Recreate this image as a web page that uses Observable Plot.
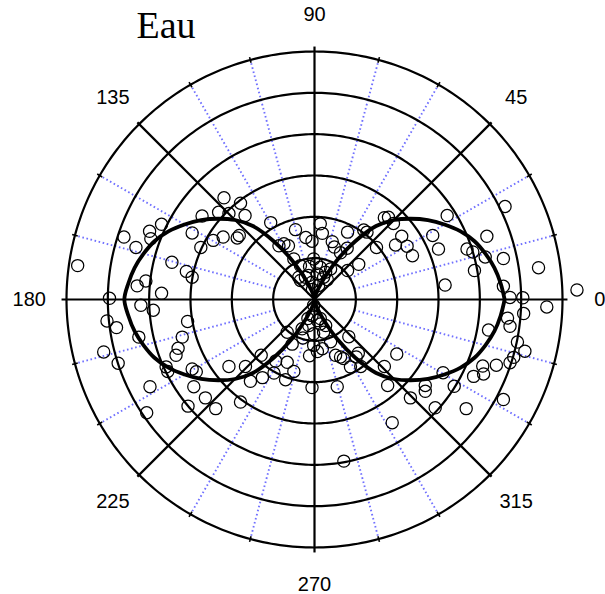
<!DOCTYPE html>
<html><head><meta charset="utf-8">
<script src="https://cdn.jsdelivr.net/npm/d3@7"></script>
<script src="https://cdn.jsdelivr.net/npm/@observablehq/plot@0.6"></script>
<style>body{margin:0;background:#fff}</style>
</head><body><div id="chart"></div>
<script>
const title = "Eau";
const angleLabels = ["0","45","90","135","180","225","270","315"];
const majorAngles = [0,45,90,135,180,225,270,315];
const minorAngles = [15,30,60,75,105,120,150,165,195,210,240,255,285,300,330,345];
const ringRadii = [1,2,3,4,5,6];
const curveAngles = d3.range(0, 361, 5);
const curveRadii = [
 4.60,4.52,4.42,4.28,4.12,3.90,3.63,3.35,3.04,2.72,2.32,1.72,1.12,0.60,0.30,0.13,0.04,0.01,0.00,
 0.01,0.04,0.13,0.30,0.60,1.12,1.72,2.32,2.72,3.04,3.35,3.63,3.90,4.12,4.28,4.42,4.52,4.60,
 4.52,4.42,4.28,4.12,3.90,3.63,3.35,3.04,2.72,2.32,1.72,1.12,0.60,0.30,0.13,0.04,0.01,0.00,
 0.01,0.04,0.13,0.30,0.60,1.12,1.72,2.32,2.72,3.04,3.35,3.63,3.90,4.12,4.28,4.42,4.52,4.60
];
// measured points (cartesian, ring units)
const obsX = [
 -5.73,-4.96,-4.61,-4.32,-3.99,-3.96,-3.70,-4.29,-4.08,-3.70,-3.45,-3.10,-2.96,-2.96,-2.72,-2.75,-2.45,-2.21,-2.19,-2.32,
 -2.07,-1.79,-1.68,-1.87,-1.82,-1.06,-0.86,-0.63,-0.46,-0.21,-0.06,-0.38,-0.34,-0.14,-0.74,-0.50,-0.34,-0.02,0.14,0.27,
 0.39,0.22,0.07,-0.06,0.10,-0.22,-0.12,0.05,0.31,-0.05,
 4.61,3.21,4.17,3.69,3.83,4.13,4.57,5.42,3.87,3.16,4.57,4.73,5.04,6.35,2.86,3.00,2.11,1.96,2.24,2.37,
 1.69,1.79,1.91,1.50,1.19,1.27,0.80,1.07,0.79,0.43,0.14,0.19,0.63,0.80,0.48,
 -4.20,-3.90,-5.02,-4.79,-4.25,-3.07,-3.20,-3.30,-3.35,-5.10,-4.75,-3.59,-3.55,-2.96,-2.86,-3.98,-2.92,-2.64,-2.39,-3.06,
 -4.06,-2.07,-1.67,-1.55,-1.79,-1.29,-1.26,-0.94,-0.98,-0.66,-0.70,-0.50,-0.06,-0.66,-0.54,-0.28,-0.16,-0.12,-0.30,
 -0.02,-0.06,0.07,0.14,0.27,0.22,-0.02,-0.14,-0.02,0.19,0.07,0.14,
 5.62,5.06,4.67,4.73,4.21,4.91,5.09,4.82,4.73,4.40,4.07,4.09,3.85,4.57,3.67,3.11,3.38,2.68,2.68,2.92,
 2.32,1.99,1.69,1.77,1.88,0.71,0.55,0.83,1.06,1.01,0.87,0.63,0.70,1.12,0.39,0.51
];
const obsY = [
 0.82,0.03,1.51,1.26,1.65,1.47,1.82,0.33,0.45,0.15,0.90,0.68,0.54,1.61,2.02,1.26,1.43,1.51,2.46,2.11,
 2.08,2.33,2.03,1.49,1.55,1.86,1.30,1.30,1.69,1.50,1.41,0.54,0.82,0.58,1.35,0.98,0.46,0.98,0.78,0.66,
 0.74,0.54,0.62,0.42,0.34,0.54,0.80,0.87,0.48,0.24,
 2.25,2.03,1.53,1.22,1.15,1.03,0.99,0.77,0.70,0.35,0.32,0.05,0.04,0.23,1.55,1.22,1.53,1.32,1.29,1.06,
 1.98,1.99,1.84,1.26,1.68,1.63,1.63,0.85,1.24,1.40,1.83,1.60,1.13,0.70,1.27,
 -0.14,-0.26,-0.52,-0.68,-0.91,-0.53,-0.91,-1.18,-1.35,-1.27,-1.54,-1.63,-1.74,-1.68,-1.75,-2.11,-2.11,-2.38,-2.64,-2.58,
 -2.74,-1.62,-1.62,-1.98,-2.48,-1.35,-1.89,-1.49,-1.78,-1.52,-1.94,-1.74,-2.13,-0.79,-1.08,-0.93,-0.46,-1.36,-0.71,
 -0.14,-0.39,-0.51,-0.59,-0.63,-0.79,-0.83,-0.63,-1.11,-1.19,-1.26,-0.46,
 -0.18,-0.34,-0.45,-0.65,-0.74,-1.03,-1.25,-1.40,-1.53,-1.59,-1.61,-1.80,-1.86,-2.42,-2.64,-1.77,-2.10,-2.08,-2.22,-2.62,
 -2.38,-1.32,-1.62,-2.08,-2.98,-3.91,-2.11,-0.90,-1.30,-1.39,-1.63,-1.39,-1.43,-1.62,-1.02,-1.35
];

const rad = a => a * Math.PI / 180;
const polar = (r, a) => ({x: r * Math.cos(rad(a)), y: r * Math.sin(rad(a))});
const R = d3.max(ringRadii);

const ringPath = ringRadii.flatMap(r => d3.range(0, 361, 1).map(a => ({ring: r, ...polar(r, a)})));
const majorSpokes = majorAngles.map(a => {
  const e = polar(a % 90 === 0 ? R + 0.12 : R + 0.06, a);
  return {x1: 0, y1: 0, x2: e.x, y2: e.y};
});
const minorSpokes = minorAngles.map(a => {
  const s = polar(ringRadii[0], a), e = polar(R, a);
  return {x1: s.x, y1: s.y, x2: e.x, y2: e.y};
});
const minorTicks = minorAngles.map(a => {
  const s = polar(R - 0.07, a), e = polar(R + 0.07, a);
  return {x1: s.x, y1: s.y, x2: e.x, y2: e.y};
});
const labels = majorAngles.map((a, i) => ({text: angleLabels[i], ...polar(R + 0.9, a)}));
const curve = curveAngles.map((a, i) => polar(curveRadii[i], a));
const obs = obsX.map((x, i) => ({x, y: obsY[i]}));

const pxPerUnit = 248 / R;
const cx = 314, cy = 299, W = 605, H = 594;

const chart = Plot.plot({
  width: W, height: H,
  margin: 0,
  x: {domain: [-cx / pxPerUnit, (W - cx) / pxPerUnit], axis: null},
  y: {domain: [-(H - cy) / pxPerUnit, cy / pxPerUnit], axis: null},
  style: {background: "#fff"},
  marks: [
    Plot.link(minorSpokes, {x1: "x1", y1: "y1", x2: "x2", y2: "y2", stroke: "#7070ff", strokeWidth: 1.9, strokeDasharray: "1.6,2.6"}),
    Plot.line(ringPath, {x: "x", y: "y", z: "ring", stroke: "black", strokeWidth: 2.2}),
    Plot.link(majorSpokes, {x1: "x1", y1: "y1", x2: "x2", y2: "y2", stroke: "black", strokeWidth: 2.2}),
    Plot.link(minorTicks, {x1: "x1", y1: "y1", x2: "x2", y2: "y2", stroke: "black", strokeWidth: 1.6}),
    Plot.dot(obs, {x: "x", y: "y", r: 6.1, stroke: "black", strokeWidth: 1.25, fill: "none"}),
    Plot.line(curve, {x: "x", y: "y", curve: "catmull-rom", stroke: "black", strokeWidth: 3.8}),
    Plot.text(labels, {x: "x", y: "y", text: "text", fontSize: 20, fontFamily: "Liberation Sans, Arial, sans-serif", fill: "black"}),
    Plot.text([title], {frameAnchor: "top-left", dx: 136, dy: 37, text: d => d, textAnchor: "start", lineAnchor: "bottom", fontSize: 38, fontFamily: "Liberation Serif, Times New Roman, serif", fill: "black"})
  ]
});
document.getElementById("chart").appendChild(chart);
</script>
</body></html>
